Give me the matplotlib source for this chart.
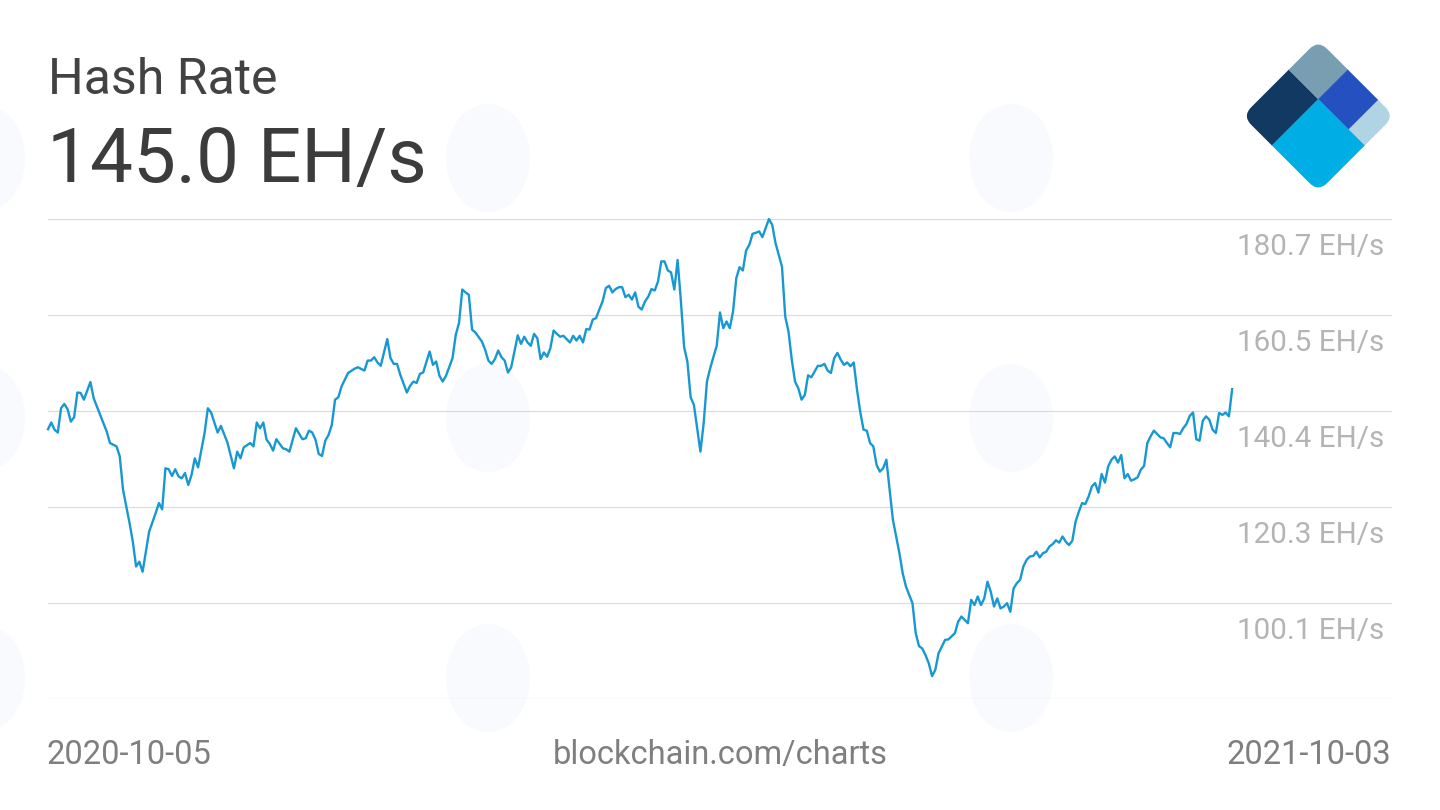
import numpy as np
import matplotlib
matplotlib.use("Agg")
import matplotlib.pyplot as plt
from matplotlib.patches import Polygon, FancyBboxPatch, Ellipse
from matplotlib.transforms import Affine2D, offset_copy

plt.rcParams['font.family'] = ['Roboto', 'DejaVu Sans']

# ---------------- data ----------------
title = "Hash Rate"
current_value = "145.0 EH/s"
start_date = "2020-10-05"
end_date = "2021-10-03"
source_text = "blockchain.com/charts"

day_offsets = [
    0, 1, 2, 3, 4, 5, 6, 7, 8, 9, 10, 11, 13, 14, 16, 18, 19, 21, 22, 23,
    25, 26, 27, 28, 29, 30, 31, 33, 34, 35, 36, 37, 38, 39, 40, 41, 42, 43, 44, 45,
    46, 48, 49, 50, 52, 53, 55, 57, 58, 59, 60, 62, 63, 64, 65, 66, 67, 68, 69, 70,
    72, 73, 74, 76, 78, 79, 80, 81, 82, 83, 84, 85, 86, 87, 88, 89, 90, 92, 94, 95,
    97, 98, 99, 100, 101, 102, 104, 105, 106, 107, 108, 110, 111, 112, 113, 114, 115, 117, 118, 119,
    120, 121, 122, 124, 125, 126, 127, 128, 129, 130, 131, 133, 134, 135, 136, 137, 138, 139, 140, 141,
    142, 144, 145, 146, 147, 148, 149, 150, 151, 152, 153, 154, 155, 156, 157, 158, 160, 161, 162, 163,
    164, 165, 166, 167, 168, 169, 170, 171, 172, 173, 174, 175, 176, 177, 178, 179, 180, 181, 182, 183,
    184, 185, 186, 187, 188, 189, 190, 191, 192, 193, 194, 195, 196, 197, 198, 199, 200, 201, 202, 203,
    204, 205, 206, 207, 208, 209, 210, 211, 212, 213, 214, 215, 216, 217, 218, 219, 220, 221, 222, 223,
    225, 226, 227, 228, 229, 230, 231, 232, 233, 234, 235, 236, 237, 238, 239, 240, 241, 242, 243, 244,
    245, 246, 247, 248, 249, 250, 251, 252, 253, 254, 255, 256, 257, 258, 259, 261, 262, 263, 265, 266,
    267, 268, 269, 270, 271, 272, 273, 274, 275, 276, 278, 279, 280, 281, 282, 283, 284, 285, 286, 287,
    288, 289, 290, 291, 292, 293, 294, 295, 296, 297, 298, 299, 300, 301, 302, 303, 304, 305, 306, 307,
    308, 309, 310, 311, 312, 313, 314, 315, 316, 317, 318, 319, 320, 321, 322, 323, 324, 325, 326, 327,
    328, 329, 330, 331, 332, 333, 334, 335, 336, 337, 338, 339, 340, 341, 342, 343, 344, 345, 346, 347,
    348, 349, 350, 351, 352, 353, 354, 355, 356, 357, 358, 359, 360, 361, 362, 363,
]

hash_rate = [
    136.6, 138.0, 136.5, 135.9, 141.0, 141.9, 140.8, 138.2, 139.1, 144.3, 144.2, 142.8, 146.5, 143.1, 139.6, 136.1, 133.7, 133.0, 130.9, 123.9,
    116.9, 113.0, 107.8, 108.8, 106.7, 110.9, 115.1, 119.0, 121.1, 119.8, 128.4, 128.2, 126.8, 128.2, 126.7, 126.3, 127.4, 124.9, 127.0, 130.5,
    128.6, 135.8, 141.0, 140.1, 135.9, 137.3, 133.8, 128.4, 131.9, 130.5, 132.8, 133.7, 133.0, 138.0, 136.8, 138.0, 134.4, 133.5, 132.1, 134.5,
    132.6, 132.4, 131.9, 136.8, 134.5, 134.7, 136.3, 135.9, 134.4, 131.4, 131.0, 134.2, 135.4, 137.5, 142.8, 143.3, 145.6, 148.4, 149.3, 149.6,
    148.9, 151.0, 151.0, 151.7, 150.6, 149.9, 155.5, 151.5, 150.3, 150.3, 148.0, 144.3, 145.7, 146.6, 146.3, 148.2, 148.5, 152.9, 150.1, 150.8,
    147.8, 146.6, 147.8, 151.5, 156.4, 158.9, 165.9, 165.3, 164.8, 157.5, 156.9, 155.0, 153.3, 151.0, 150.3, 151.3, 153.1, 151.7, 151.0, 148.5,
    149.6, 156.3, 154.5, 156.0, 154.8, 154.1, 156.6, 155.7, 151.3, 152.7, 151.8, 153.6, 157.3, 156.6, 156.0, 156.2, 154.8, 156.2, 155.2, 156.2,
    154.8, 157.6, 157.5, 159.6, 159.9, 161.7, 163.4, 166.2, 166.7, 165.3, 166.0, 166.4, 166.4, 164.3, 164.8, 163.8, 165.3, 162.3, 161.7, 163.4,
    164.4, 166.0, 165.7, 167.6, 171.8, 171.8, 169.9, 169.5, 165.9, 172.1, 163.6, 153.8, 150.8, 143.3, 141.7, 136.8, 131.9, 137.9, 146.6, 149.4,
    151.8, 154.1, 161.1, 157.8, 159.2, 157.8, 161.3, 168.3, 170.6, 169.9, 174.1, 175.3, 177.6, 177.8, 178.1, 176.9, 178.8, 180.7, 179.5, 175.7,
    170.7, 160.2, 157.1, 151.2, 146.6, 145.2, 142.8, 143.8, 147.9, 147.5, 148.7, 149.9, 149.9, 150.3, 148.9, 148.4, 151.5, 152.6, 151.2, 150.1,
    150.6, 149.8, 150.6, 144.9, 140.2, 136.5, 136.3, 133.7, 133.0, 129.1, 127.7, 128.4, 130.2, 123.9, 117.6, 110.6, 106.4, 103.6, 100.1, 93.8,
    91.1, 90.6, 89.2, 87.5, 84.8, 86.1, 89.6, 91.0, 92.4, 92.5, 93.8, 96.2, 97.3, 96.6, 95.9, 100.8, 99.7, 101.5, 99.7, 101.1,
    104.6, 102.5, 99.4, 101.1, 99.0, 99.4, 100.1, 98.3, 103.2, 104.3, 105.0, 107.8, 109.2, 109.9, 110.0, 110.9, 109.7, 110.6, 110.9, 112.0,
    112.5, 113.3, 112.8, 114.1, 113.0, 112.3, 113.2, 117.2, 119.3, 121.1, 120.9, 122.5, 124.6, 125.3, 123.3, 127.2, 125.4, 128.8, 130.2, 130.9,
    129.6, 131.2, 126.3, 127.2, 125.8, 126.1, 126.5, 128.1, 128.9, 133.7, 135.1, 136.3, 135.6, 134.9, 134.7, 133.7, 132.8, 135.8, 135.8, 135.6,
    136.8, 137.7, 139.4, 140.1, 134.5, 134.2, 138.4, 139.3, 138.6, 136.5, 135.8, 140.0, 139.6, 140.1, 139.3, 145.0,
]

grid_values = [80.0, 100.1, 120.3, 140.4, 160.5, 180.7]
tick_labels = ["180.7 EH/s", "160.5 EH/s", "140.4 EH/s", "120.3 EH/s", "100.1 EH/s"]
tick_label_values = [180.7, 160.5, 140.4, 120.3, 100.1]

assert len(day_offsets) == len(hash_rate)

# ---------------- figure ----------------
W, H = 1440, 810
fig = plt.figure(figsize=(W / 100, H / 100), dpi=100)
fig.patch.set_facecolor("white")

def fx(px):
    return px / W

def fy(py):
    return 1 - py / H

# background axes for very faint watermarks
bg = fig.add_axes([0, 0, 1, 1], zorder=-5)
bg.set_xlim(0, W)
bg.set_ylim(H, 0)
bg.axis("off")
for cx in (-25, 480, 1003):
    for cy in (158, 418, 678):
        bg.add_patch(Ellipse((cx + 8, cy), 84, 108, color="#f9fafd", lw=0))

# main chart axes
ax = fig.add_axes([fx(48), fy(699), fx(1392) - fx(48), fy(219) - fy(699)])
ax.set_facecolor("none")
start = np.datetime64(start_date)
dates = start + np.array(day_offsets).astype("timedelta64[D]")
ax.plot(dates, hash_rate, color="#1898d2", lw=1.7, solid_joinstyle="round", zorder=3, clip_on=False)
ax.set_xlim(start, start + np.timedelta64(412, "D"))
ax.set_ylim(grid_values[0], grid_values[-1])
for g in grid_values:
    ax.axhline(g, color="#dcdcdc", lw=0.9, zorder=1)
for s in ax.spines.values():
    s.set_visible(False)
ax.set_xticks([])
ax.set_yticks([])

lbl_trans = offset_copy(ax.get_yaxis_transform(), fig=fig, y=-36, units="dots")
for v, t in zip(tick_label_values, tick_labels):
    ax.text((1384 - 48) / (1392 - 48), v, t, transform=lbl_trans, ha="right", va="baseline",
            fontsize=21.3, color="#b4b4b4")

# titles
fig.text(fx(48), fy(94), title, fontsize=36, color="#424242", ha="left", va="baseline")
fig.text(fx(47), fy(181.7), current_value, fontsize=55, color="#3c3c3c", ha="left", va="baseline")

# bottom labels
fig.text(fx(47), fy(764), start_date, fontsize=23.5, color="#7f7f7f", ha="left", va="baseline")
fig.text(fx(1391), fy(764), end_date, fontsize=23.5, color="#7f7f7f", ha="right", va="baseline")
fig.text(fx(720), fy(764), source_text, fontsize=23.5, color="#7f7f7f", ha="center", va="baseline")

# logo
cxl, cyl, half = 1318.3, 116.0, 76.0
lx0, lx1, ly0, ly1 = cxl - half, cxl + half, cyl - half, cyl + half
lax = fig.add_axes([fx(lx0), fy(ly1), fx(lx1) - fx(lx0), fy(ly0) - fy(ly1)])
r2 = np.sqrt(2) / 2
lax.set_xlim(0, 2 * r2)
lax.set_ylim(-r2, r2)
lax.axis("off")
tr = Affine2D(np.array([[r2, r2, 0], [r2, -r2, 0], [0, 0, 1]])) + lax.transData
clip = FancyBboxPatch((0, 0), 1, 1, boxstyle="round,pad=0,rounding_size=0.12",
                      transform=tr, facecolor="none", edgecolor="none")
lax.add_patch(clip)
a1, b1, b2 = 0.61, 0.39, 0.79
pieces = [
    ([(0, 0), (a1, 0), (a1, b1), (0, b1)], "#123962"),
    ([(a1, 0), (1, 0), (1, b1), (a1, b1)], "#799eb2"),
    ([(a1, b1), (1, b1), (1, b2), (a1, b2)], "#2451bf"),
    ([(a1, b2), (1, b2), (1, 1), (a1, 1)], "#b1d4e5"),
    ([(0, b1), (a1, b1), (a1, 1), (0, 1)], "#00aee6"),
]
for pts, col in pieces:
    p = Polygon(pts, closed=True, facecolor=col, edgecolor=col, lw=0.3, transform=tr)
    lax.add_patch(p)
    p.set_clip_path(clip)

fig.savefig("out.png", dpi=100, facecolor="white")
